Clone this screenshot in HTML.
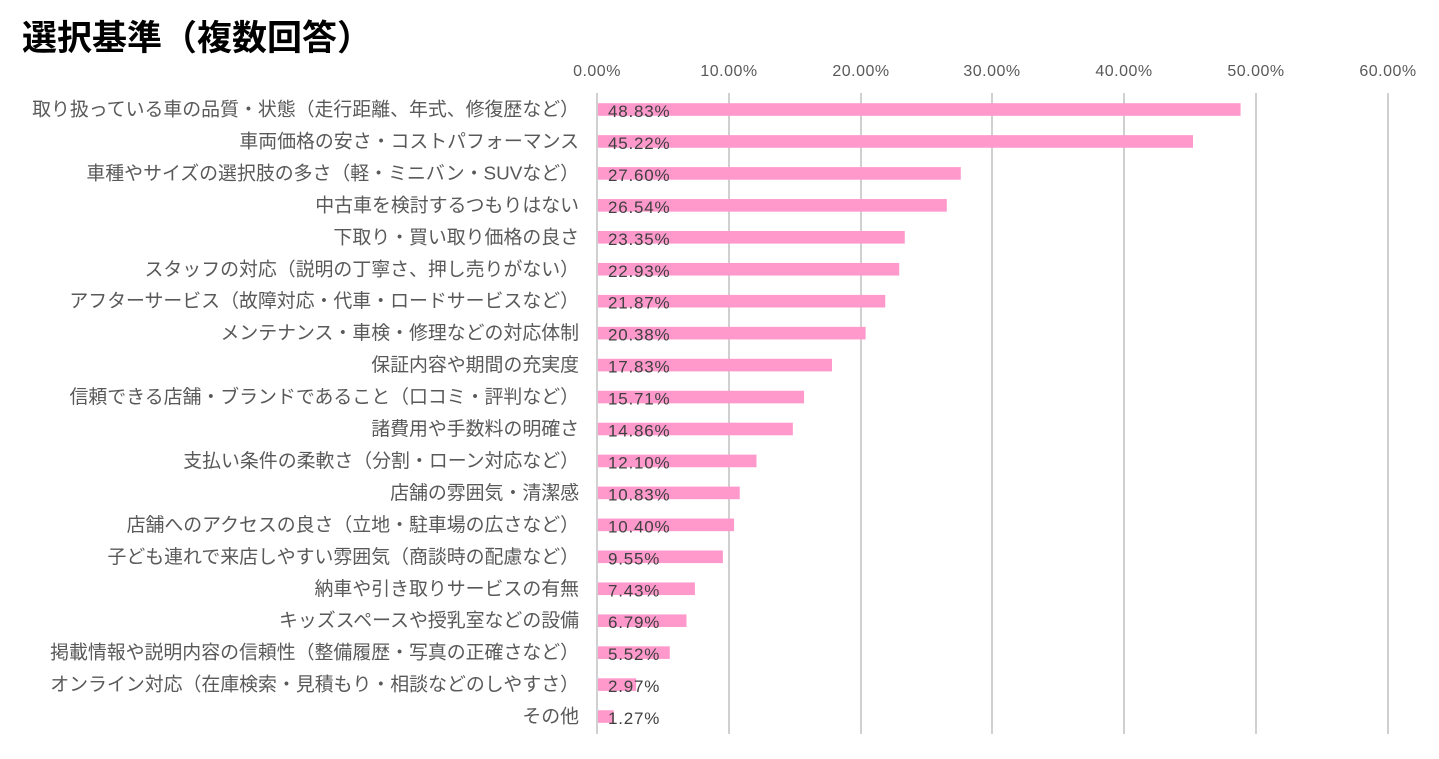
<!DOCTYPE html>
<html><head><meta charset="utf-8"><style>
body{margin:0;background:#fff;}
svg text{font-family:"Liberation Sans","Noto Sans CJK JP",sans-serif;}
</style></head><body>
<svg width="1439" height="754" xmlns="http://www.w3.org/2000/svg">
<rect width="1439" height="754" fill="#fff"/>
<text x="22" y="50" font-size="35" font-weight="bold" fill="#000">選択基準（複数回答）</text>
<g stroke="#d0d0d0" stroke-width="2">
<line x1="597" y1="93" x2="597" y2="734"/>
<line x1="729" y1="93" x2="729" y2="734"/>
<line x1="861" y1="93" x2="861" y2="734"/>
<line x1="992" y1="93" x2="992" y2="734"/>
<line x1="1124" y1="93" x2="1124" y2="734"/>
<line x1="1256" y1="93" x2="1256" y2="734"/>
<line x1="1388" y1="93" x2="1388" y2="734"/>
</g>
<g font-size="16" fill="#595959" text-anchor="middle" letter-spacing="0.5">
<text x="597" y="76">0.00%</text><text x="729" y="76">10.00%</text><text x="861" y="76">20.00%</text><text x="992" y="76">30.00%</text><text x="1124" y="76">40.00%</text><text x="1256" y="76">50.00%</text><text x="1388" y="76">60.00%</text>
</g>
<g id="rows"></g>
</svg>
<script>
const d=[["取り扱っている車の品質・状態（走行距離、年式、修復歴など）",48.83],["車両価格の安さ・コストパフォーマンス",45.22],["車種やサイズの選択肢の多さ（軽・ミニバン・SUVなど）",27.60],["中古車を検討するつもりはない",26.54],["下取り・買い取り価格の良さ",23.35],["スタッフの対応（説明の丁寧さ、押し売りがない）",22.93],["アフターサービス（故障対応・代車・ロードサービスなど）",21.87],["メンテナンス・車検・修理などの対応体制",20.38],["保証内容や期間の充実度",17.83],["信頼できる店舗・ブランドであること（口コミ・評判など）",15.71],["諸費用や手数料の明確さ",14.86],["支払い条件の柔軟さ（分割・ローン対応など）",12.10],["店舗の雰囲気・清潔感",10.83],["店舗へのアクセスの良さ（立地・駐車場の広さなど）",10.40],["子ども連れで来店しやすい雰囲気（商談時の配慮など）",9.55],["納車や引き取りサービスの有無",7.43],["キッズスペースや授乳室などの設備",6.79],["掲載情報や説明内容の信頼性（整備履歴・写真の正確さなど）",5.52],["オンライン対応（在庫検索・見積もり・相談などのしやすさ）",2.97],["その他",1.27]];
const g=document.getElementById('rows');let s='';
d.forEach((r,i)=>{const c=109.5+i*31.95;const w=r[1]*13.18;
s+=`<rect x="598" y="${c-6.3}" width="${w-1}" height="12.6" fill="#FF99CC"/>`;
s+=`<text x="579" y="${c+6}" font-size="18.9" fill="#595959" text-anchor="end">${r[0]}</text>`;
s+=`<text x="608" y="${c+7.5}" font-size="17" letter-spacing="0.8" fill="#404040">${r[1].toFixed(2)}%</text>`;});
g.innerHTML=s;
</script>
</body></html>
